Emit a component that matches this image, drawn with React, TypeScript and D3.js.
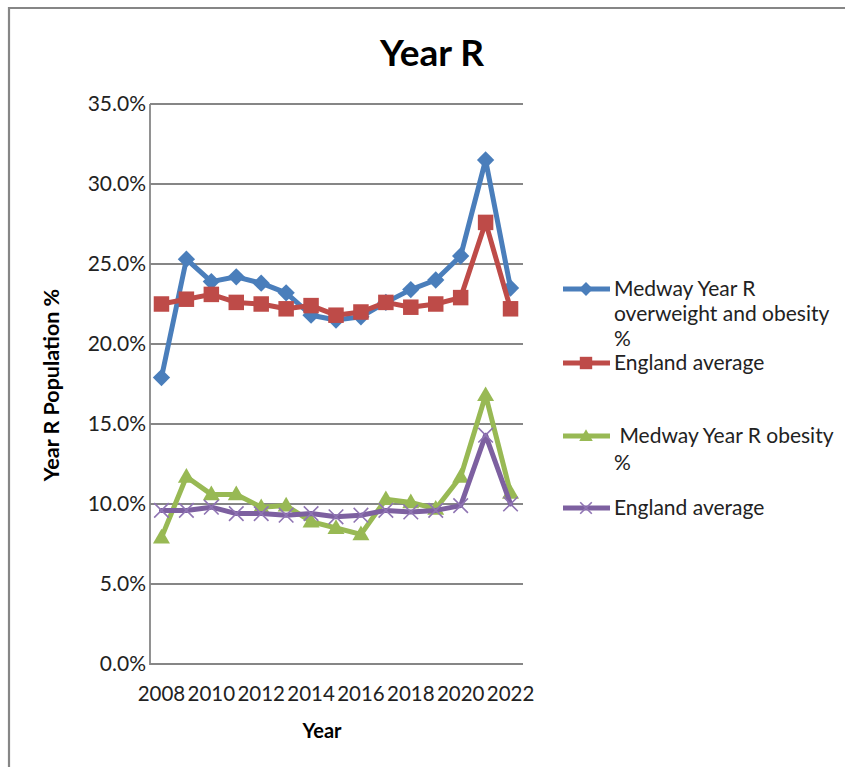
import React from "react";
import * as d3 from "d3";

const years = [2008, 2009, 2010, 2011, 2012, 2013, 2014, 2015, 2016, 2017, 2018, 2019, 2020, 2021, 2022];
const medwayOverweight = [17.9, 25.3, 23.9, 24.2, 23.8, 23.2, 21.8, 21.5, 21.7, 22.6, 23.4, 24.0, 25.5, 31.5, 23.5];
const englandOverweight = [22.5, 22.8, 23.1, 22.6, 22.5, 22.2, 22.4, 21.8, 22.0, 22.6, 22.3, 22.5, 22.9, 27.6, 22.2];
const medwayObesity = [7.9, 11.7, 10.6, 10.6, 9.8, 9.9, 8.9, 8.5, 8.1, 10.3, 10.1, 9.7, 11.7, 16.8, 10.7];
const englandObesity = [9.6, 9.6, 9.8, 9.4, 9.4, 9.3, 9.4, 9.2, 9.3, 9.6, 9.5, 9.6, 9.9, 14.3, 10.0];
const yTicks = [0, 5, 10, 15, 20, 25, 30, 35];
const xTickYears = [2008, 2010, 2012, 2014, 2016, 2018, 2020, 2022];

const FONT = "Lato, 'Open Sans', sans-serif";

type Series = { name: string[]; values: number[]; color: string; marker: string; legendY: number; lineGap: number };

const series: Series[] = [
  { name: ["Medway Year R", "overweight and obesity", "%"], values: medwayOverweight, color: "#4a7ebb", marker: "diamond", legendY: 289, lineGap: 25 },
  { name: ["England average"], values: englandOverweight, color: "#be4b48", marker: "square", legendY: 363, lineGap: 26.5 },
  { name: [" Medway Year R obesity", "%"], values: medwayObesity, color: "#98b954", marker: "triangle", legendY: 436, lineGap: 27 },
  { name: ["England average"], values: englandObesity, color: "#7d60a0", marker: "x", legendY: 508, lineGap: 26.5 },
];

function Marker({ type, color, x, y, scale = 1 }: { type: string; color: string; x: number; y: number; scale?: number }) {
  if (type === "diamond") {
    const p = d3.symbol(d3.symbolSquare, 150 * scale * scale)()!;
    return <path d={p} transform={`translate(${x},${y}) rotate(45)`} fill={color} />;
  }
  if (type === "square") {
    const p = d3.symbol(d3.symbolSquare, 240 * scale * scale)()!;
    return <path d={p} transform={`translate(${x},${y})`} fill={color} />;
  }
  if (type === "triangle") {
    const p = d3.symbol(d3.symbolTriangle, 125 * scale * scale)()!;
    return <path d={p} transform={`translate(${x},${y + 1})`} fill={color} />;
  }
  const p = d3.symbol(d3.symbolTimes, 140 * scale * scale)()!;
  return <path d={p} transform={`translate(${x},${y})`} fill="none" stroke="#8f74b3" strokeWidth={1.6} />;
}

export default function App() {
  const W = 845, H = 767;
  const x = d3.scalePoint<number>().domain(years).range([149, 523]).padding(0.5);
  const y = d3.scaleLinear().domain([0, 35]).range([664, 104]);
  const line = d3.line<number>().x((_, i) => x(years[i])!).y((v) => y(v));

  return (
    <div style={{ position: "absolute", left: 0, top: 0 }}>
      <svg width={W} height={H} style={{ display: "block", fontFamily: FONT }}>
        <rect width={W} height={H} fill="#fff" />
        <path d={`M9,${H} V8 H${W}`} fill="none" stroke="#868686" strokeWidth={2.2} />
        <text x={432} y={66} textAnchor="middle" fontSize={37} fontWeight={700} fill="#000">Year R</text>

        {yTicks.map((t) => (
          <g key={t}>
            <line x1={150} x2={523} y1={y(t)} y2={y(t)} stroke="#868686" strokeWidth={1.8} />
            <text x={146} y={y(t)} dy="0.35em" textAnchor="end" fontSize={21} fill="#222">{t.toFixed(1)}%</text>
          </g>
        ))}
        <line x1={150} x2={150} y1={104} y2={665} stroke="#868686" strokeWidth={1.8} />

        {xTickYears.map((yr) => (
          <text key={yr} x={x(yr)} y={701} textAnchor="middle" fontSize={20.5} fill="#222">{yr}</text>
        ))}
        <text x={322} y={738} textAnchor="middle" fontSize={20} fontWeight={700} fill="#000">Year</text>
        <text transform="translate(59,385) rotate(-90)" textAnchor="middle" fontSize={21.5} fontWeight={700} fill="#000">Year R Population %</text>

        {series.map((s, si) => (
          <g key={si}>
            <path d={line(s.values)!} fill="none" stroke={s.color} strokeWidth={5} strokeLinejoin="round" strokeLinecap="round" />
            {s.values.map((v, i) => (
              <Marker key={i} type={s.marker} color={s.color} x={x(years[i])!} y={y(v)} />
            ))}
          </g>
        ))}

        {series.map((s, si) => (
          <g key={"l" + si}>
            <line x1={563} x2={610} y1={s.legendY} y2={s.legendY} stroke={s.color} strokeWidth={5} />
            <Marker type={s.marker} color={s.color} x={586} y={s.legendY} scale={0.8} />
            {s.name.map((n, k) => (
              <text key={k} x={614} y={s.legendY + 7 + k * s.lineGap} fontSize={21} fill="#222" style={{ whiteSpace: "pre" }}>{n}</text>
            ))}
          </g>
        ))}
      </svg>
    </div>
  );
}
